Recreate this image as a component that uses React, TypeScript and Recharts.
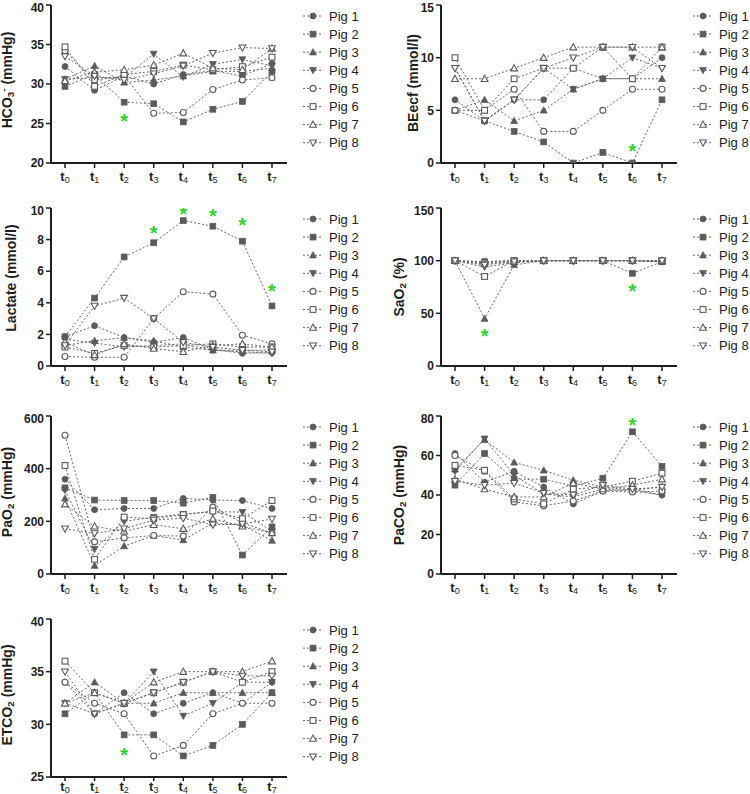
import React from 'react';
import { LineChart, Line, XAxis, YAxis } from 'recharts';

// ---------- data ----------
const timepoints = ['t0', 't1', 't2', 't3', 't4', 't5', 't6', 't7'];
const pigNames = ['Pig 1', 'Pig 2', 'Pig 3', 'Pig 4', 'Pig 5', 'Pig 6', 'Pig 7', 'Pig 8'];

const hco3Values = [
  [32.2, 29.2, 31.0, 30.0, 31.2, 31.7, 31.0, 32.6],
  [29.7, 31.2, 27.7, 27.5, 25.2, 26.8, 27.8, 31.6],
  [30.6, 32.3, 30.2, 30.5, 31.0, 31.6, 31.6, 32.0],
  [30.6, 30.8, 30.8, 33.8, 30.9, 32.5, 33.1, 32.3],
  [34.2, 30.5, 31.0, 26.3, 26.4, 29.3, 30.5, 30.8],
  [34.7, 29.7, 31.2, 31.6, 32.4, 31.8, 32.2, 33.4],
  [30.4, 31.5, 31.8, 32.4, 33.9, 32.0, 31.8, 34.5],
  [33.5, 31.0, 30.5, 31.3, 32.3, 33.9, 34.6, 34.5],
];
const hco3Stars = [null, null, 25.85, null, null, null, null, null];

const beValues = [
  [6, 4, 6, 6, 9, 8, 8, 10],
  [5, 4, 3, 2, 0, 1, 0, 6],
  [5, 6, 4, 5, 7, 8, 8, 8],
  [9, 4, 6, 9, 7, 8, 10, 9],
  [5, 5, 7, 3, 3, 5, 7, 7],
  [10, 5, 8, 9, 9, 11, 8, 11],
  [8, 8, 9, 10, 11, 11, 11, 11],
  [9, 4, 6, 9, 10, 11, 11, 9],
];
const beStars = [null, null, null, null, null, null, 1.5, null];

const lactateValues = [
  [1.85, 2.55, 1.8, 1.5, 1.8, 1.05, 0.8, 0.85],
  [1.85, 4.3, 6.9, 7.8, 9.2, 8.85, 7.9, 3.8],
  [1.3, 1.6, 1.8, 1.6, 1.2, 1.0, 1.0, 1.0],
  [1.7, 1.45, 1.2, 1.3, 1.4, 1.0, 0.9, 0.8],
  [0.6, 0.55, 0.55, 3.0, 4.7, 4.55, 1.95, 1.4],
  [1.2, 0.8, 1.3, 1.2, 1.3, 1.4, 1.2, 1.2],
  [1.5, 0.7, 1.4, 1.1, 0.9, 1.3, 1.4, 1.2],
  [1.3, 3.8, 4.3, 3.0, 1.5, 1.2, 1.0, 0.9],
];
const lactateStars = [null, null, null, 8.66, 9.9, 9.74, 9.19, 5.0];

const sao2Values = [
  [100, 99, 100, 100, 100, 100, 100, 99],
  [100, 99, 100, 100, 100, 100, 88, 99],
  [100, 45, 96, 100, 100, 100, 100, 99],
  [100, 94, 98, 100, 100, 100, 100, 99],
  [100, 98, 100, 100, 100, 100, 100, 100],
  [100, 85, 100, 100, 100, 100, 100, 100],
  [100, 97, 99, 100, 100, 100, 100, 100],
  [100, 96, 99, 100, 100, 100, 100, 100],
];
const sao2Stars = [null, 32, null, null, null, null, 75, null];

const pao2Values = [
  [360, 244, 249, 249, 287, 281, 279, 249],
  [327, 281, 279, 279, 269, 291, 72, 179],
  [287, 32, 106, 146, 129, 194, 185, 127],
  [318, 94, 200, 216, 227, 237, 235, 162],
  [527, 122, 137, 146, 144, 254, 194, 156],
  [412, 56, 216, 210, 225, 239, 210, 279],
  [265, 181, 162, 187, 172, 210, 181, 156],
  [172, 154, 172, 205, 212, 187, 190, 209],
];
const pao2Stars = [null, null, null, null, null, null, null, null];

const paco2Values = [
  [61, 46.5, 52, 44, 35.5, 42, 43, 40],
  [45, 61, 48, 48, 44.5, 48.5, 72, 54.5],
  [53, 68, 56.5, 52.5, 47.5, 44, 42.5, 44],
  [52, 68.5, 50, 40.5, 39, 43, 42, 40],
  [60, 52, 36.5, 34.5, 37, 42, 41.5, 42],
  [55, 52.5, 38, 35.5, 43, 44, 47, 51],
  [48, 43, 39, 39, 46, 43, 45, 48],
  [47, 45, 46, 41, 40, 45, 43, 44],
];
const paco2Stars = [null, null, null, null, null, null, 77.4, null];

const etco2Values = [
  [34, 31, 33, 31, 32, 33, 32, 34],
  [31, 33, 29, 29, 27, 28, 30, 33],
  [32, 34, 32, 32, 33, 33, 33, 33],
  [32, 31, 32, 35, 30.8, 32, 34, 34],
  [34, 32, 31, 27, 28, 31, 32, 32],
  [36, 33, 32, 33, 34, 35, 34, 35],
  [32, 33, 32, 34, 35, 35, 35, 36],
  [35, 31, 32, 33, 34, 35, 34.6, 34.6],
];
const etco2Stars = [null, null, 27.5, null, null, null, null, null];

const hco3Ticks = [20, 25, 30, 35, 40];
const beTicks = [0, 5, 10, 15];
const lactateTicks = [0, 2, 4, 6, 8, 10];
const sao2Ticks = [0, 50, 100, 150];
const pao2Ticks = [0, 200, 400, 600];
const paco2Ticks = [0, 20, 40, 60, 80];
const etco2Ticks = [25, 30, 35, 40];

// ---------- styling ----------
const FONT = "'Liberation Sans', Arial, Helvetica, sans-serif";
const MARK = '#5b5b5b';
const LINE = '#666666';
const AXIS = '#1e1e1e';
const STAR = '#2fd12f';
const SHAPES = ['circle', 'square', 'triangle', 'down', 'circle', 'square', 'triangle', 'down'];

function Marker({ cx, cy, idx }: { cx: number; cy: number; idx: number }) {
  const shape = SHAPES[idx];
  const open = idx >= 4;
  const fill = open ? '#ffffff' : MARK;
  const stroke = MARK;
  const sw = open ? 1.1 : 0.8;
  if (shape === 'circle') return <circle cx={cx} cy={cy} r={3} fill={fill} stroke={stroke} strokeWidth={sw} />;
  if (shape === 'square') return <rect x={cx - 2.9} y={cy - 2.9} width={5.8} height={5.8} fill={fill} stroke={stroke} strokeWidth={sw} />;
  if (shape === 'triangle')
    return <polygon points={`${cx},${cy - 3.5} ${cx + 3.4},${cy + 2.7} ${cx - 3.4},${cy + 2.7}`} fill={fill} stroke={stroke} strokeWidth={sw} />;
  return <polygon points={`${cx},${cy + 3.5} ${cx + 3.4},${cy - 2.7} ${cx - 3.4},${cy - 2.7}`} fill={fill} stroke={stroke} strokeWidth={sw} />;
}

const makeXTick = (offset: number) => (props: any) => {
  const { x, y, payload } = props;
  return (
    <text x={x} y={y + offset} textAnchor="middle" fontFamily={FONT} fill={AXIS}>
      <tspan fontWeight="bold" fontSize={13}>t</tspan>
      <tspan fontSize={9} dy={1.5}>{String(payload.value).slice(1)}</tspan>
    </text>
  );
};

function buildData(values: number[][], stars: (number | null)[]) {
  return timepoints.map((t, i) => {
    const row: any = { t, star: stars[i] };
    values.forEach((arr, p) => {
      row['p' + (p + 1)] = arr[i];
    });
    return row;
  });
}

function Legend({ left, top }: { left: number; top: number }) {
  return (
    <svg style={{ position: 'absolute', left, top: top - 9 }} width={70} height={150}>
      {pigNames.map((name, i) => {
        const y = 9 + i * 18.1;
        return (
          <g key={name}>
            <line x1={0} x2={19} y1={y} y2={y} stroke={LINE} strokeWidth={1} strokeDasharray="2 2" />
            <Marker cx={10} cy={y} idx={i} />
            <text x={26} y={y} dominantBaseline="central" fontFamily={FONT} fontSize={13} fill="#222">
              {name}
            </text>
          </g>
        );
      })}
    </svg>
  );
}

type PanelProps = {
  left: number;
  top: number;
  height: number;
  xAxisHeight: number;
  tickSize: number;
  tickOffset: number;
  values: number[][];
  stars: (number | null)[];
  domain: [number, number];
  ticks: number[];
  label: React.ReactNode;
  labelX: number;
  labelY: number;
  legendLeft: number;
};

function Panel(p: PanelProps) {
  const data = buildData(p.values, p.stars);
  const XTick = makeXTick(p.tickOffset);
  const renderStar = (props: any) => {
    const { cx, cy, index, value } = props;
    if (value == null || cy == null || isNaN(cy)) return <g key={'s' + index} />;
    return (
      <text key={'s' + index} x={cx} y={cy + 11} textAnchor="middle" fontSize={20} fontWeight="bold" fontFamily={FONT} fill={STAR}>
        *
      </text>
    );
  };
  return (
    <>
      <div style={{ position: 'absolute', left: p.left, top: p.top }}>
        <LineChart width={290} height={p.height} data={data} margin={{ top: 5, right: 3, left: 0, bottom: 0 }}>
          <XAxis
            dataKey="t"
            height={p.xAxisHeight}
            padding={{ left: 14, right: 15 }}
            axisLine={{ stroke: AXIS, strokeWidth: 2 }}
            tickLine={{ stroke: AXIS, strokeWidth: 1.5 }}
            tickSize={p.tickSize}
            tick={<XTick />}
            interval={0}
          />
          <YAxis
            width={51}
            domain={p.domain}
            ticks={p.ticks}
            type="number"
            allowDataOverflow
            axisLine={{ stroke: AXIS, strokeWidth: 2 }}
            tickLine={{ stroke: AXIS, strokeWidth: 1.5 }}
            tickSize={5}
            tick={{ fontSize: 12, fontWeight: 'bold', fill: AXIS, fontFamily: FONT }}
          />
          {pigNames.map((name, i) => (
            <Line
              key={name}
              name={name}
              dataKey={'p' + (i + 1)}
              stroke={LINE}
              strokeWidth={1}
              strokeDasharray="2 2"
              isAnimationActive={false}
              activeDot={false}
              dot={(dp: any) => <Marker key={name + dp.index} cx={dp.cx} cy={dp.cy} idx={i} />}
            />
          ))}
          <Line dataKey="star" stroke="none" isAnimationActive={false} activeDot={false} dot={renderStar} legendType="none" />
        </LineChart>
      </div>
      <div
        style={{
          position: 'absolute',
          left: p.labelX,
          top: p.labelY,
          transform: 'translate(-50%, -50%) rotate(-90deg)',
          whiteSpace: 'nowrap',
          fontFamily: FONT,
          fontWeight: 'bold',
          fontSize: 14,
          lineHeight: 1,
          color: AXIS,
        }}
      >
        {p.label}
      </div>
      <Legend left={p.legendLeft} top={p.top + 16} />
    </>
  );
}

const sub = (s: string) => <sub style={{ fontSize: '0.7em', verticalAlign: '-0.25em' }}>{s}</sub>;
const sup = (s: string) => <sup style={{ fontSize: '0.7em', verticalAlign: '0.45em' }}>{s}</sup>;

export default function App() {
  return (
    <div style={{ position: 'absolute', left: 0, top: 0, width: 750, height: 794, overflow: 'hidden', background: '#fff' }}>
      <Panel left={0} top={0} height={190} xAxisHeight={27} tickSize={5} tickOffset={11} values={hco3Values} stars={hco3Stars} domain={[20, 40]} ticks={hco3Ticks}
        label={<span>HCO{sub('3')}{sup('-')} (mmHg)</span>} labelX={8} labelY={80} legendLeft={303} />
      <Panel left={390} top={0} height={190} xAxisHeight={27} tickSize={5} tickOffset={11} values={beValues} stars={beStars} domain={[0, 15]} ticks={beTicks}
        label={<span>BEecf (mmol/l)</span>} labelX={413} labelY={83} legendLeft={693} />
      <Panel left={0} top={203} height={190} xAxisHeight={27} tickSize={5} tickOffset={11} values={lactateValues} stars={lactateStars} domain={[0, 10]} ticks={lactateTicks}
        label={<span>Lactate (mmol/l)</span>} labelX={10.5} labelY={278} legendLeft={303} />
      <Panel left={390} top={203} height={190} xAxisHeight={27} tickSize={5} tickOffset={11} values={sao2Values} stars={sao2Stars} domain={[0, 150]} ticks={sao2Ticks}
        label={<span>SaO{sub('2')} (%)</span>} labelX={400} labelY={287} legendLeft={693} />
      <Panel left={0} top={411} height={190} xAxisHeight={27} tickSize={5} tickOffset={11} values={pao2Values} stars={pao2Stars} domain={[0, 600]} ticks={pao2Ticks}
        label={<span>PaO{sub('2')} (mmHg)</span>} labelX={8} labelY={492} legendLeft={303} />
      <Panel left={390} top={411} height={190} xAxisHeight={27} tickSize={5} tickOffset={11} values={paco2Values} stars={paco2Stars} domain={[0, 80]} ticks={paco2Ticks}
        label={<span>PaCO{sub('2')} (mmHg)</span>} labelX={400} labelY={495} legendLeft={693} />
      <Panel left={0} top={614} height={180} xAxisHeight={17} tickSize={4} tickOffset={8} values={etco2Values} stars={etco2Stars} domain={[25, 40]} ticks={etco2Ticks}
        label={<span>ETCO{sub('2')} (mmHg)</span>} labelX={8} labelY={695} legendLeft={303} />
    </div>
  );
}
